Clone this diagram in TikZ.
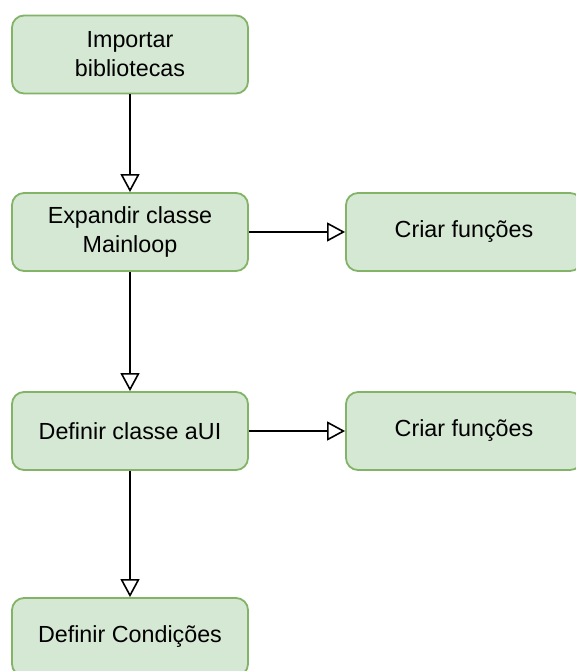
\documentclass[tikz,border=0pt]{standalone}
\usepackage{fontspec}
\setmainfont{Liberation Sans}
\usetikzlibrary{arrows.meta}
\definecolor{boxfill}{HTML}{D5E8D4}
\definecolor{boxline}{HTML}{82B366}
\begin{document}
\begin{tikzpicture}[x=1pt,y=-1pt,
  stepbox/.style={draw=boxline, fill=boxfill, line width=1.8pt, rounded corners=12pt,
    minimum width=236pt, minimum height=78pt, inner sep=0pt, align=center,
    font=\fontsize{23.3}{29}\selectfont},
  sidebox/.style={stepbox, minimum width=236pt},
  flow/.style={draw=black, line width=1.6pt,
    -{Triangle[open, length=18pt, width=19pt, line width=1.6pt]}}]
\useasboundingbox (0,0) rectangle (575,671);
\fill[white] (0,0) rectangle (575,671);

\node[stepbox] (imp) at (130,54.5) {Importar\\bibliotecas};
\node[stepbox] (exp) at (130,232) {Expandir classe\\Mainloop};
\node[sidebox] (cf1) at (464,232) {Criar funções};
\node[stepbox] (def) at (130,431) {Definir classe aUI};
\node[sidebox] (cf2) at (464,431) {Criar funções};
\node[stepbox] (cond) at (130,637) {Definir Condições};

\draw[flow] (imp) -- (exp);
\draw[flow] (exp) -- (cf1);
\draw[flow] (exp) -- (def);
\draw[flow] (def) -- (cf2);
\draw[flow] (def) -- (cond);
\end{tikzpicture}
\end{document}
